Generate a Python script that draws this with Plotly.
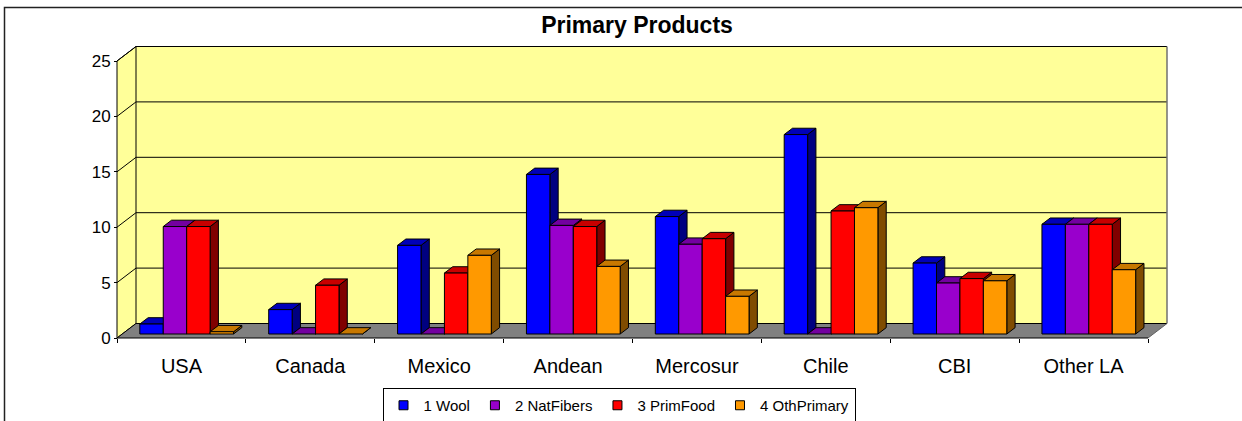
import plotly.graph_objects as go

# ---------------- data ----------------
categories = ["USA", "Canada", "Mexico", "Andean", "Mercosur", "Chile", "CBI", "Other LA"]
series_names = ["1 Wool", "2 NatFibers", "3 PrimFood", "4 OthPrimary"]
wool = [0.9, 2.2, 8.0, 14.4, 10.6, 18.0, 6.4, 9.9]
nat_fibers = [9.7, 0.0, 0.0, 9.8, 8.1, 0.0, 4.6, 9.9]
prim_food = [9.7, 4.4, 5.5, 9.7, 8.6, 11.1, 5.0, 9.9]
oth_primary = [0.2, 0.0, 7.1, 6.1, 3.4, 11.4, 4.8, 5.8]
y_ticks = [0, 5, 10, 15, 20, 25]

# ---------------- styles ----------------
front_colors = ["#0000FF", "#9900CC", "#FF0000", "#FF9900"]
top_colors = ["#0000B8", "#7300A0", "#C80000", "#C87800"]
side_colors = ["#000080", "#4C0066", "#800000", "#804C00"]
wall_color = "#FFFF99"
floor_color = "#808080"
FONT = "Liberation Sans, Arial, sans-serif"

W, H = 1242, 421
ML, MR, MT, MB = 100, 62, 40, 71
PX_PER_X = 128.875
PX_PER_Y = 11.08
X_MIN = -0.5 - 17 / PX_PER_X
X_MAX = X_MIN + (W - ML - MR) / PX_PER_X
Y_MIN = -(H - MB - 338) / PX_PER_Y
Y_MAX = Y_MIN + (H - MT - MB) / PX_PER_Y
Y_TOP = y_ticks[-1]
N = len(categories)

# oblique depth vector (full depth of the box)
DX = 19 / PX_PER_X
DY = 14.5 / PX_PER_Y
Z_FRONT = 0.276
Z_DEPTH = 0.437
BAR_W = 0.1818
GROUP_LEFT = -2 * BAR_W

series = [wool, nat_fibers, prim_food, oth_primary]

fig = go.Figure()


def poly(pts, fill, line_color="black"):
    xs = [p[0] for p in pts] + [pts[0][0]]
    ys = [p[1] for p in pts] + [pts[0][1]]
    fig.add_trace(go.Scatter(
        x=xs, y=ys, mode="lines", fill="toself", fillcolor=fill,
        line=dict(color=line_color, width=1), hoverinfo="skip", showlegend=False,
    ))


bx, by = Z_DEPTH * DX, Z_DEPTH * DY
for i in range(N):
    for j, vals in enumerate(series):
        v = vals[i]
        xl = i + GROUP_LEFT + j * BAR_W + Z_FRONT * DX
        xr = xl + BAR_W
        yb = Z_FRONT * DY
        yt = yb + v
        poly([(xr, yb), (xr + bx, yb + by), (xr + bx, yt + by), (xr, yt)], side_colors[j])
        poly([(xl, yt), (xr, yt), (xr + bx, yt + by), (xl + bx, yt + by)], top_colors[j])
        if v > 0:
            poly([(xl, yb), (xr, yb), (xr, yt), (xl, yt)], front_colors[j])

# legend entries (points outside the visible range)
for j, name in enumerate(series_names):
    fig.add_trace(go.Scatter(
        x=[-5], y=[0], mode="markers", name=name, xaxis="x2",
        marker=dict(symbol="square", size=9, color=front_colors[j],
                    line=dict(color="black", width=1)),
        hoverinfo="skip",
    ))

shapes = []
xa, xb = -0.5, N - 0.5


def path(pts):
    return "M " + " L ".join(f"{x},{y}" for x, y in pts) + " Z"


def seg(x0, y0, x1, y1, color="black", width=1):
    shapes.append(dict(type="line", xref="x", yref="y", x0=x0, y0=y0, x1=x1, y1=y1,
                       line=dict(color=color, width=width), layer="below"))


# back wall
shapes.append(dict(type="path", xref="x", yref="y", layer="below",
                   path=path([(xa + DX, DY), (xb + DX, DY), (xb + DX, Y_TOP + DY), (xa + DX, Y_TOP + DY)]),
                   fillcolor=wall_color, line=dict(width=0)))
# left wall
shapes.append(dict(type="path", xref="x", yref="y", layer="below",
                   path=path([(xa, 0), (xa, Y_TOP), (xa + DX, Y_TOP + DY), (xa + DX, DY)]),
                   fillcolor=wall_color, line=dict(color="black", width=1)))
# floor
shapes.append(dict(type="path", xref="x", yref="y", layer="below",
                   path=path([(xa, 0), (xb, 0), (xb + DX, DY), (xa + DX, DY)]),
                   fillcolor=floor_color, line=dict(width=0)))
# gridlines on back wall and left wall
for v in y_ticks:
    if 0 < v < Y_TOP:
        seg(xa + DX, v + DY, xb + DX, v + DY)
    seg(xa, v, xa + DX, v + DY)
seg(xa + DX, Y_TOP + DY, xb + DX, Y_TOP + DY)          # top edge of back wall
seg(xb + DX, DY, xb + DX, Y_TOP + DY, "#707070", 1.5)  # right edge of back wall
seg(xa + DX, DY, xb + DX, DY)                          # back edge of floor
seg(xa, 0, xb, 0)                                      # front edge (axis line)
seg(xb, 0, xb + DX, DY, "#606060")                     # right edge of floor

# outer chart border
shapes.append(dict(type="rect", xref="paper", yref="paper",
                   x0=(4.5 - ML) / (W - ML - MR), x1=(1244 - ML) / (W - ML - MR),
                   y0=(H - MB - 430) / (H - MT - MB), y1=(H - MB - 7.5) / (H - MT - MB),
                   line=dict(color="#222222", width=1.5), layer="below"))

pos_x = (H - MB - 338) / (H - MT - MB)
pos_y = 17 / (W - ML - MR)

fig.update_layout(
    width=W, height=H,
    margin=dict(l=ML, r=MR, t=MT, b=MB, autoexpand=False),
    paper_bgcolor="white", plot_bgcolor="white",
    font=dict(family=FONT, color="black"),
    shapes=shapes,
    showlegend=True,
    hovermode=False,
    title=dict(text="<b>Primary Products</b>", x=637 / W, xanchor="center", xref="container",
               y=1 - 25 / H, yanchor="middle", yref="container",
               font=dict(size=23, family=FONT, color="black")),
    xaxis=dict(range=[X_MIN, X_MAX], anchor="free", position=pos_x, automargin=False,
               tickmode="array", tickvals=list(range(N)), ticktext=categories,
               ticks="", showgrid=False, zeroline=False, showline=False,
               ticklabelstandoff=14,
               tickfont=dict(size=20, family=FONT, color="black"), fixedrange=True),
    xaxis2=dict(range=[X_MIN, X_MAX], overlaying="x", anchor="free", position=pos_x,
                automargin=False,
                tickmode="array", tickvals=[i - 0.5 for i in range(N + 1)],
                ticks="outside", ticklen=4, tickcolor="black", tickwidth=1,
                showticklabels=False, showgrid=False, zeroline=False, showline=False,
                side="bottom", fixedrange=True),
    yaxis=dict(range=[Y_MIN, Y_MAX], anchor="free", position=pos_y, automargin=False,
               tickmode="array", tickvals=y_ticks,
               ticks="outside", ticklen=3, tickcolor="black", tickwidth=1,
               showgrid=False, zeroline=False, showline=False,
               tickfont=dict(size=17, family=FONT, color="black"), fixedrange=True),
    legend=dict(orientation="h", x=(619 - ML) / (W - ML - MR), xanchor="center",
                y=(H - MB - 388) / (H - MT - MB), yanchor="top",
                bordercolor="black", borderwidth=1, bgcolor="white",
                font=dict(size=15, family=FONT, color="black"),
                itemwidth=30, tracegroupgap=0),
)

# remove the browser's default page margin so the figure sits at the window origin
fig.write_html("out.html", config={"displayModeBar": False},
               post_script="document.body.style.margin='0';")
